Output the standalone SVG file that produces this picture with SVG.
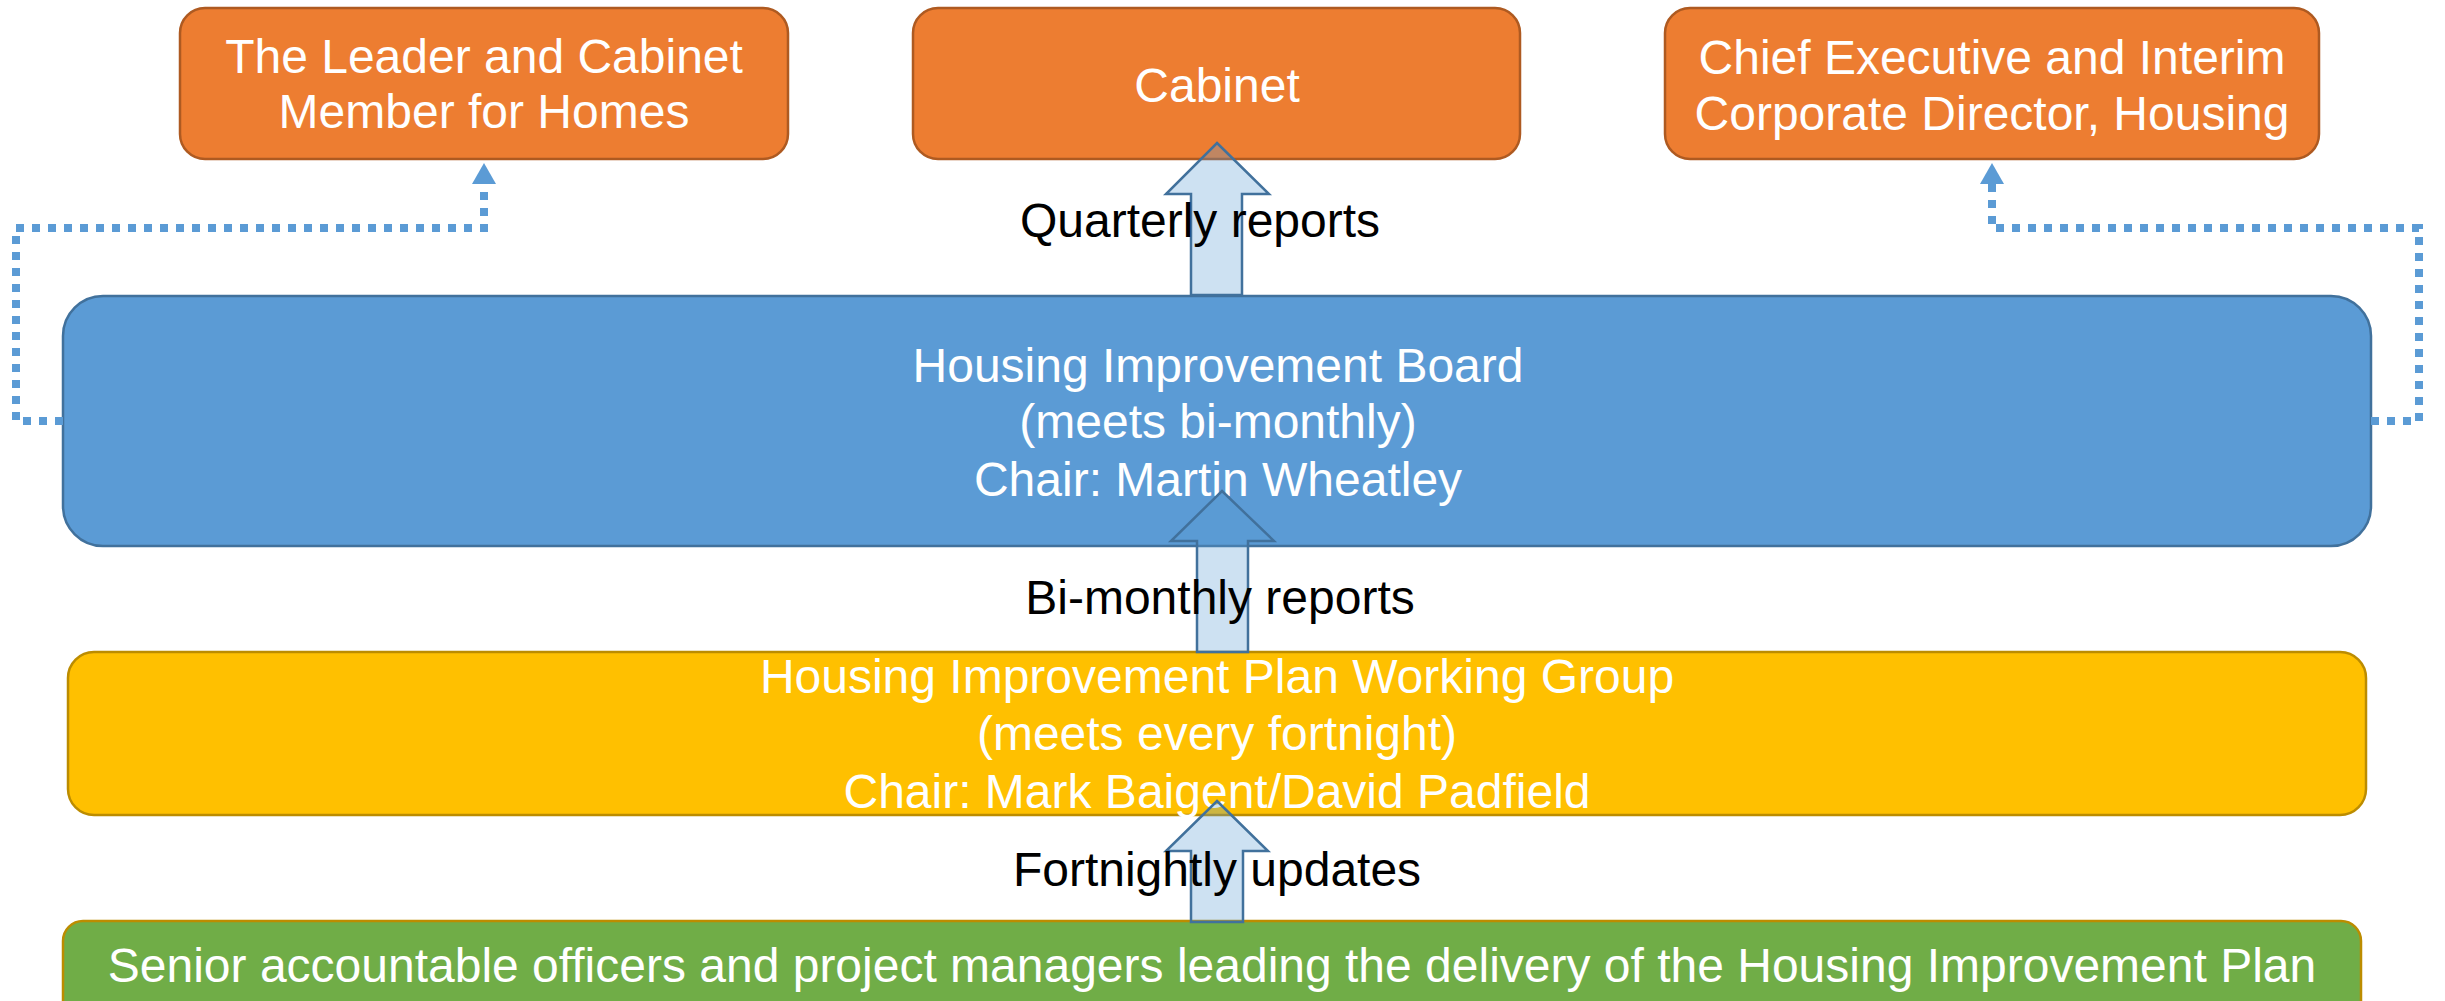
<svg xmlns="http://www.w3.org/2000/svg" width="2445" height="1001" viewBox="0 0 2445 1001">
  <style>
    .box-text { font-family: "Liberation Sans", Arial, sans-serif; font-size: 48px; fill: #ffffff; text-anchor: middle; }
    .label { font-family: "Liberation Sans", Arial, sans-serif; font-size: 48px; fill: #000000; text-anchor: middle; }
    .orange { fill: #ED7D31; stroke: #AE5A21; stroke-width: 2.5; }
    .blue { fill: #5B9BD5; stroke: #41719C; stroke-width: 2.5; }
    .yellow { fill: #FFC000; stroke: #BC8C00; stroke-width: 2.5; }
    .green { fill: #70AD47; stroke: #BC8C00; stroke-width: 2.5; }
    .block-arrow { fill: rgba(91,155,213,0.3); stroke: #41719C; stroke-width: 2.5; stroke-linejoin: miter; }
    .dotted { fill: none; stroke: #5B9BD5; stroke-width: 8; stroke-dasharray: 8 8; }
  </style>
  <defs>
    <marker id="tri" markerUnits="userSpaceOnUse" viewBox="0 0 21 24" markerWidth="21" markerHeight="24" refX="0" refY="12" orient="auto">
      <path d="M0,0 L21,12 L0,24 z" fill="#5B9BD5"/>
    </marker>
  </defs>

  <rect width="2445" height="1001" fill="#ffffff"/>

  <!-- Top row -->
  <g id="leader">
    <rect class="orange" x="180" y="8" width="608" height="151" rx="25" ry="25"/>
    <text class="box-text" x="484" y="73">The Leader and Cabinet</text>
    <text class="box-text" x="484" y="128">Member for Homes</text>
  </g>
  <g id="cabinet">
    <rect class="orange" x="913" y="8" width="607" height="151" rx="25" ry="25"/>
    <text class="box-text" x="1217" y="102">Cabinet</text>
  </g>
  <g id="chief-executive">
    <rect class="orange" x="1665" y="8" width="654" height="151" rx="25" ry="25"/>
    <text class="box-text" x="1992" y="74">Chief Executive and Interim</text>
    <text class="box-text" x="1992" y="130">Corporate Director, Housing</text>
  </g>

  <!-- Board -->
  <g id="improvement-board">
    <rect class="blue" x="63" y="296" width="2308" height="250" rx="40" ry="40"/>
    <text class="box-text" x="1218" y="382">Housing Improvement Board</text>
    <text class="box-text" x="1218" y="438">(meets bi-monthly)</text>
    <text class="box-text" x="1218" y="496">Chair: Martin Wheatley</text>
  </g>

  <!-- Working group -->
  <g id="working-group">
    <rect class="yellow" x="68" y="652" width="2298" height="163" rx="26" ry="26"/>
    <text class="box-text" x="1217" y="693">Housing Improvement Plan Working Group</text>
    <text class="box-text" x="1217" y="750">(meets every fortnight)</text>
    <text class="box-text" x="1217" y="808">Chair: Mark Baigent/David Padfield</text>
  </g>

  <!-- Officers -->
  <g id="officers">
    <rect class="green" x="63" y="921" width="2298" height="110" rx="20" ry="20"/>
    <text class="box-text" x="1212" y="982">Senior accountable officers and project managers leading the delivery of the Housing Improvement Plan</text>
  </g>

  <!-- Connectors -->
  <g id="connectors">
    <path class="dotted" d="M63,421 H16 V228 H484 V184" marker-end="url(#tri)"/>
    <path class="dotted" d="M2371,421 H2419 V228 H1992 V184" marker-end="url(#tri)"/>
    <polygon class="block-arrow" points="1217,143 1269,194 1242,194 1242,295 1191,295 1191,194 1166,194"/>
    <polygon class="block-arrow" points="1222,491 1274,541 1248,541 1248,652 1197,652 1197,541 1171,541"/>
    <polygon class="block-arrow" points="1217,801 1268,851 1243,851 1243,922 1191,922 1191,851 1166,851"/>
    <text class="label" x="1200" y="237">Quarterly reports</text>
    <text class="label" x="1220" y="614">Bi-monthly reports</text>
    <text class="label" x="1217" y="886">Fortnightly updates</text>
  </g>
</svg>
